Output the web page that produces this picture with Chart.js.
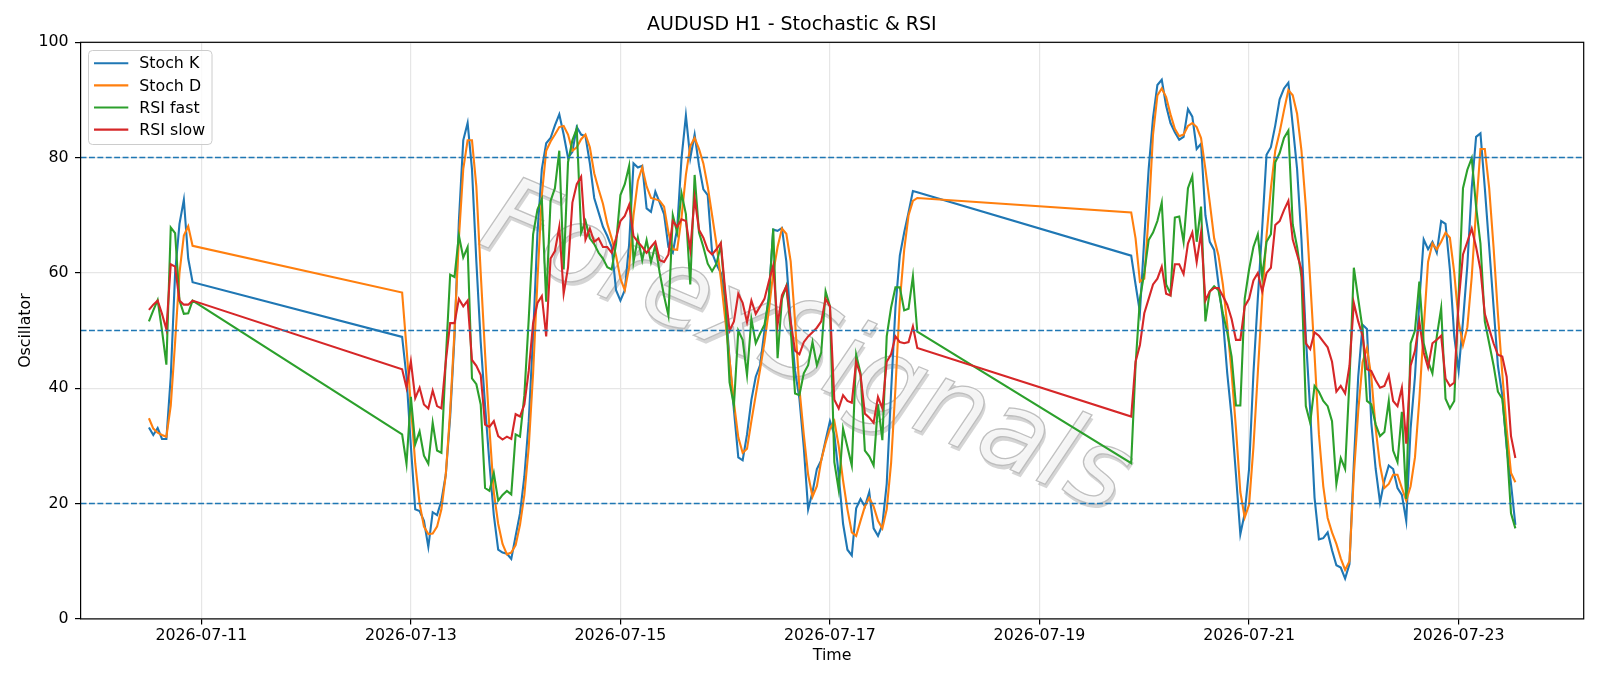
<!DOCTYPE html>
<html>
<head>
<meta charset="utf-8">
<title>AUDUSD H1 - Stochastic & RSI</title>
<script src="https://cdn.jsdelivr.net/npm/chart.js@4.4.1/dist/chart.umd.min.js"></script>
<style>
  html, body { margin: 0; padding: 0; background: #fff; }
</style>
</head>
<body>
<canvas id="osc" width="1600" height="686"></canvas>
<script>
// hourly bars, one block per trading session (UTC)
const sessionStarts = ['2026-07-10T12:00:00Z', '2026-07-12T22:00:00Z', '2026-07-19T21:00:00Z'];

const stochK_s1 = [33.2, 31.9, 33.1, 31.2, 31.2, 42, 60, 68.5, 72.7, 62.5, 58.4];
const stochD_s1 = [34.8, 33.0, 32.3, 31.9, 31.6, 37, 48, 60, 66.5, 68.1, 64.7];
const rsiFast_s1 = [51.6, 53.5, 55.3, 50, 44.1, 67.9, 66.9, 55.2, 52.9, 53.0, 55.2];
const rsiSlow_s1 = [53.6, 54.5, 55.2, 52.9, 50.2, 61.5, 61.1, 55.2, 54.5, 54.5, 55.2];

const stochK_s2 = [
  48.9, 42, 30, 19, 18.7, 17, 12.5, 18.5, 18, 20.5,
  25, 35, 49, 69, 83, 86, 78, 62, 48, 37,
  27, 18, 12, 11.5, 11.3, 10.4, 14.4, 18.3, 24.7, 34.3,
  49, 67, 78, 82.5, 83.4, 85.6, 87.5, 84, 80, 81,
  85.3, 84, 83.7, 79, 73, 70.5, 68, 66.4, 64.5, 57,
  55.2, 57, 65, 79, 78.3, 78.6, 71.2, 70.6, 74.1, 72.2,
  70.2, 64.5, 63.5, 67.7, 79.9, 87.3, 79.9, 84, 78.6, 74.5,
  73.5, 63.5, 61.5, 60, 55, 45, 36.2, 28, 27.5, 32,
  38, 42, 44, 50, 56, 67.5, 67.3, 67.8, 62, 51.6,
  43, 38.2, 29.8, 19, 22, 26, 27.5, 31, 34.3, 32,
  25, 16.5, 12, 11, 19.2, 20.8, 19.5, 22, 15.7, 14.4,
  16.3, 23.4, 39.4, 54, 63, 67, 70.5, 74.2, 74
];
const stochD_s2 = [
  56.6, 47, 37, 27, 20, 16, 14.7, 14.8, 16, 19,
  25, 36, 50, 66, 78, 83, 83, 75, 60, 46,
  33, 22, 16.5, 13, 11.2, 11.5, 12.8, 16.3, 21.5, 29.8,
  42.6, 58.7, 73.5, 81.2, 82.8, 84, 85.3, 85.5, 84, 81.2,
  81.8, 83.2, 84, 81.8, 77.3, 74.5, 72, 68.5, 66, 63,
  59, 57, 61, 70, 76, 78.3, 75, 73, 72.8, 72.5,
  71.5, 67, 64.1, 64, 69.6, 77, 82, 83.4, 81.5, 79,
  75, 70, 65, 59, 52, 45, 37.5, 31.5, 28.8, 29.5,
  34.3, 38.8, 43.3, 48, 53.5, 60, 64.5, 67.7, 66.8, 62,
  51.6, 40, 32, 25, 21.2, 23, 27.5, 30.5, 33, 34.3,
  30, 24, 19, 15, 14.4, 17, 19.5, 21, 19.5, 17,
  15.7, 19, 27, 40, 55, 64, 70, 72.5, 73
];
const rsiFast_s2 = [
  32, 26.9, 38.5, 30.3, 32.5, 28.3, 26.9, 34, 29.2, 28.8,
  45, 59.7, 59.3, 66.5, 62.7, 64.5, 41.7, 40.7, 37.2, 22.7,
  22.2, 25.3, 20.5, 21.5, 22.2, 21.6, 32, 31.6, 38.8, 52,
  66.7, 71, 72.8, 55, 72.5, 74.7, 81.2, 60.6, 79.2, 83,
  85, 67, 69, 66, 65, 63.5, 62.5, 61, 60.6, 65,
  73.5, 75.4, 78.6, 61.9, 66.1, 62.2, 65.7, 61.9, 64.8, 60,
  56, 52.6, 70, 67, 73.8, 70.2, 58, 77, 67, 64.5,
  61.6, 60.3, 61.6, 64.8, 56, 41, 37, 50, 48.4, 42.3,
  52, 47.8, 49.5, 51, 55.5, 67.7, 45.2, 55.5, 57.7, 50.3,
  39.1, 38.8, 42.6, 44, 48, 44, 46.2, 56.8, 54.2, 27.2,
  22.4, 33, 29.8, 26.6, 45.8, 42.6, 29.2, 28.2, 26.6, 37.2,
  31, 49, 54, 57.5, 57.5, 53.5, 53.8, 59.4, 49.8
];
const rsiSlow_s2 = [
  43.3, 40.1, 44.7, 38.3, 40.1, 37.2, 36.5, 39.6, 36.9, 36.5,
  44.6, 51.3, 51.3, 55.5, 54.2, 55.2, 44.9, 43.9, 42.3, 33.7,
  33.3, 34.3, 31.7, 31.1, 31.6, 31.2, 35.5, 35.1, 37.2, 43,
  51.3, 54.8, 56, 49, 62.5, 63.8, 68, 56.4, 60.9, 72.2,
  75.4, 76.7, 65.8, 67.7, 65.4, 66, 64.5, 64.5, 63.5, 66,
  69, 69.9, 71.8, 66.4, 65.4, 64.5, 63.5, 64.5, 65.4, 62.2,
  61.9, 63.2, 69, 68, 69.3, 69, 64, 73, 67.5, 66.1,
  64, 63.2, 64.1, 65.2, 57, 50, 51.6, 56.4, 54.8, 51.5,
  55.2, 52.9, 54.2, 55.5, 58.5, 61.3, 51, 56.1, 57.7, 51.6,
  46.5, 45.9, 48, 49, 49.7, 50.5, 51.6, 55.5, 54.2, 38,
  36.5, 38.8, 37.8, 37.5, 44.6, 42.3, 35.6, 34.9, 34, 38.5,
  36.5, 44.6, 45.9, 49, 48, 47.8, 48, 50.7, 47
];

const stochK_s3 = [
  63, 58, 53.2, 66, 78, 86.9, 92.6, 93.5, 89, 86,
  84.4, 83.1, 83.6, 88.4, 87.1, 81.5, 82.4, 70, 65.4, 64,
  58, 52, 42.6, 35, 25, 14.7, 18.3, 26, 42.6, 55.5,
  67.7, 80.5, 81.8, 85.6, 90.1, 92, 93, 85.6, 78, 65.8,
  49, 36.2, 21, 13.8, 14, 15, 11.9, 9.3, 8.9, 7,
  9.5, 27, 42, 51, 50.3, 34, 26, 20.2, 24, 26.6,
  26, 22.7, 21.5, 17, 33, 42, 55, 65.8, 64.1, 65.4,
  63.5, 69, 68.5, 60.6, 49, 43, 51.6, 61.3, 74.7, 83.6,
  84.2, 74.7, 64.5, 54.2, 43.9, 38.8, 29.8, 23.4, 16.3
];
const stochD_s3 = [
  70.5, 66, 58.5, 59, 70, 84, 90.8, 92, 90.5, 87.5,
  85, 83.7, 84, 85.5, 86, 85.3, 83.4, 78, 72.2, 66,
  63, 58, 51, 42.6, 33, 22, 17.6, 19.8, 29.8, 42.6,
  55.5, 66.4, 74.7, 81.2, 84.4, 88.2, 91.7, 90.8, 87.6, 81.2,
  71.5, 58.7, 45.8, 32, 23, 17.5, 15, 13, 10.5, 8.5,
  10, 25, 36, 44.5, 47, 42, 33, 26.6, 22.7, 23.4,
  25, 25, 22.7, 20.5, 23, 28, 38, 50.3, 61.9, 65.1,
  64.1, 65.4, 67, 66.1, 60, 51.6, 47.5, 50.6, 59.3, 70.9,
  81.5, 81.5, 74.7, 64.5, 52.9, 42.6, 33, 25.3, 23.7
];
const rsiFast_s3 = [
  27, 44, 55.5, 60, 65.7, 67, 69, 72.2, 58, 56.4,
  69.6, 69.8, 65.4, 74.7, 76.8, 65.4, 71.5, 51.6, 56.8, 57.7,
  57, 53, 49.7, 45.5, 37, 37, 55.5, 60.6, 64.5, 66.7,
  59.3, 65.4, 66.7, 79.2, 80.8, 83.4, 84.7, 68.4, 64.5, 59.3,
  36.9, 34, 40.4, 39.4, 37.8, 36.9, 34.3, 23.4, 27.9, 26,
  41.4, 60.9, 55.5, 50.3, 37.8, 37.2, 33.7, 31.7, 32.4, 37.8,
  29.2, 27.2, 35.9, 20.8, 47.8, 50, 58.5, 47.8, 44.6, 42.6,
  49, 53.9, 38.2, 36.5, 37.8, 56, 74.7, 77.9, 79.9, 71.5,
  65.1, 51.6, 47.8, 44, 39.4, 38.2, 30.4, 18.3, 15.7
];
const rsiSlow_s3 = [
  35.1, 44.6, 47.5, 53, 55.5, 58, 59, 61.1, 56.4, 56.1,
  61.5, 61.5, 59.8, 65.1, 67, 61.9, 67, 55.2, 56.8, 57.4,
  57.4, 56, 54.5, 52, 48.4, 48.4, 54.2, 55.5, 58.7, 60,
  56.8, 60, 60.9, 68.3, 69, 70.9, 72.5, 65.8, 63.2, 60.6,
  47.8, 46.8, 49.7, 49.1, 48.1, 47.1, 44.6, 39.4, 40.4, 39.1,
  43.9, 54.8, 51.6, 49.1, 43.3, 43, 41.4, 40.1, 40.4, 42.3,
  37.8, 36.9, 40.1, 30.4, 43.9, 46.5, 51.6, 46.2, 43.6, 47.8,
  48.4, 49.1, 41.7, 40.4, 41, 55, 63.2, 65.4, 67.7, 64.5,
  60.6, 52.9, 50.3, 47.8, 45.8, 45.5, 42, 31.7, 27.9
];

const seriesNames = ['Stoch K', 'Stoch D', 'RSI fast', 'RSI slow'];
const seriesColors = ['#1f77b4', '#ff7f0e', '#2ca02c', '#d62728'];
const levels = [80, 50, 20];
const tickDates = ['2026-07-11', '2026-07-13', '2026-07-15', '2026-07-17', '2026-07-19', '2026-07-21', '2026-07-23'];
const watermarkText = 'ForexSignals';

const HOUR = 3600 * 1000;
const FONT = 'DejaVu Sans';

function buildPoints(parts) {
  const pts = [];
  parts.forEach((vals, s) => {
    const t0 = Date.parse(sessionStarts[s]);
    vals.forEach((v, i) => pts.push({ x: t0 + i * HOUR, y: v }));
  });
  return pts;
}

const seriesData = [
  buildPoints([stochK_s1, stochK_s2, stochK_s3]),
  buildPoints([stochD_s1, stochD_s2, stochD_s3]),
  buildPoints([rsiFast_s1, rsiFast_s2, rsiFast_s3]),
  buildPoints([rsiSlow_s1, rsiSlow_s2, rsiSlow_s3])
];

// matplotlib style 5% margins on the time axis
const firstT = seriesData[0][0].x;
const lastT = seriesData[0][seriesData[0].length - 1].x;
const margin = (lastT - firstT) * 0.05;
const xMin = firstT - margin;
const xMax = lastT + margin;
const tickValues = tickDates.map(d => Date.parse(d + 'T00:00:00Z'));

const datasets = seriesData.map((pts, i) => ({
  label: seriesNames[i],
  data: pts,
  borderColor: seriesColors[i],
  backgroundColor: seriesColors[i],
  borderWidth: 2.1,
  pointRadius: 0,
  tension: 0,
  fill: false,
  order: 4 - i
}));

levels.forEach(lv => {
  datasets.push({
    label: 'level ' + lv,
    data: [{ x: xMin, y: lv }, { x: xMax, y: lv }],
    borderColor: '#1f77b4',
    borderWidth: 1.5,
    borderDash: [5.9, 2.5],
    pointRadius: 0,
    fill: false,
    order: 0
  });
});

// faint rotated watermark behind the lines: pale letters, grey edge, soft shadow
const watermarkPlugin = {
  id: 'watermark',
  beforeDatasetsDraw(chart) {
    const ctx = chart.ctx;
    ctx.save();
    ctx.translate(805, 352);
    ctx.rotate(23 * Math.PI / 180);
    ctx.font = 'italic 108px "' + FONT + '"';
    ctx.textAlign = 'center';
    ctx.textBaseline = 'middle';
    ctx.fillStyle = 'rgba(150,150,150,0.4)';
    ctx.fillText(watermarkText, 3, 3);
    ctx.fillStyle = 'rgba(246,246,246,0.95)';
    ctx.fillText(watermarkText, 0, 0);
    ctx.strokeStyle = 'rgba(185,185,185,0.9)';
    ctx.lineWidth = 1.3;
    ctx.strokeText(watermarkText, 0, 0);
    ctx.restore();
  }
};

// full box around the axes + legend in the upper left
const framePlugin = {
  id: 'frame',
  afterDatasetsDraw(chart) {
    const { ctx, chartArea: a } = chart;
    ctx.save();
    ctx.strokeStyle = '#000';
    ctx.lineWidth = 1.2;
    ctx.strokeRect(a.left, a.top, a.right - a.left, a.bottom - a.top);

    const bx = 88.5, by = 50.5, bw = 123.5, bh = 94, r = 4;
    ctx.beginPath();
    ctx.moveTo(bx + r, by);
    ctx.arcTo(bx + bw, by, bx + bw, by + bh, r);
    ctx.arcTo(bx + bw, by + bh, bx, by + bh, r);
    ctx.arcTo(bx, by + bh, bx, by, r);
    ctx.arcTo(bx, by, bx + bw, by, r);
    ctx.closePath();
    ctx.fillStyle = 'rgba(255,255,255,0.8)';
    ctx.fill();
    ctx.strokeStyle = '#cccccc';
    ctx.lineWidth = 1;
    ctx.stroke();

    ctx.font = '15.8px "' + FONT + '"';
    ctx.textBaseline = 'middle';
    ctx.textAlign = 'left';
    seriesNames.forEach((name, i) => {
      const y = 63.3 + i * 22.1;
      ctx.strokeStyle = seriesColors[i];
      ctx.lineWidth = 2.1;
      ctx.beginPath();
      ctx.moveTo(94, y);
      ctx.lineTo(128.3, y);
      ctx.stroke();
      ctx.fillStyle = '#000';
      ctx.fillText(name, 139.3, y + 1);
    });
    ctx.restore();
  }
};

const tickFont = { family: FONT, size: 15.8 };

new Chart(document.getElementById('osc').getContext('2d'), {
  type: 'line',
  data: { datasets: datasets },
  options: {
    responsive: false,
    animation: false,
    layout: { padding: { left: 0, right: 16.3, top: 0, bottom: 0 } },
    plugins: {
      legend: { display: false },
      tooltip: { enabled: false },
      title: {
        display: true,
        text: 'AUDUSD H1 - Stochastic & RSI',
        color: '#000',
        font: { family: FONT, size: 19, weight: 'normal' },
        padding: { top: 14.1, bottom: 5.4 }
      }
    },
    scales: {
      x: {
        type: 'linear',
        min: xMin,
        max: xMax,
        afterFit: s => { s.height = 67.1; },
        afterBuildTicks: s => { s.ticks = tickValues.map(v => ({ value: v })); },
        ticks: {
          callback: v => new Date(v).toISOString().slice(0, 10),
          color: '#000',
          font: tickFont,
          padding: 2,
          maxRotation: 0,
          autoSkip: false
        },
        grid: { color: '#e6e6e6', lineWidth: 1.2, tickLength: 5.6, tickColor: '#000', tickWidth: 1.2 },
        border: { display: false },
        title: { display: true, text: 'Time', color: '#000', font: tickFont, padding: { top: 0, bottom: 20.3 } }
      },
      y: {
        min: 0,
        max: 100,
        afterFit: s => { s.width = 80.6; },
        ticks: { stepSize: 20, color: '#000', font: tickFont, padding: 6.4 },
        grid: { color: '#e6e6e6', lineWidth: 1.2, tickLength: 5.6, tickColor: '#000', tickWidth: 1.2 },
        border: { display: false },
        title: { display: true, text: 'Oscillator', color: '#000', font: tickFont, padding: { top: 16, bottom: 0 } }
      }
    }
  },
  plugins: [watermarkPlugin, framePlugin]
});
</script>
</body>
</html>
